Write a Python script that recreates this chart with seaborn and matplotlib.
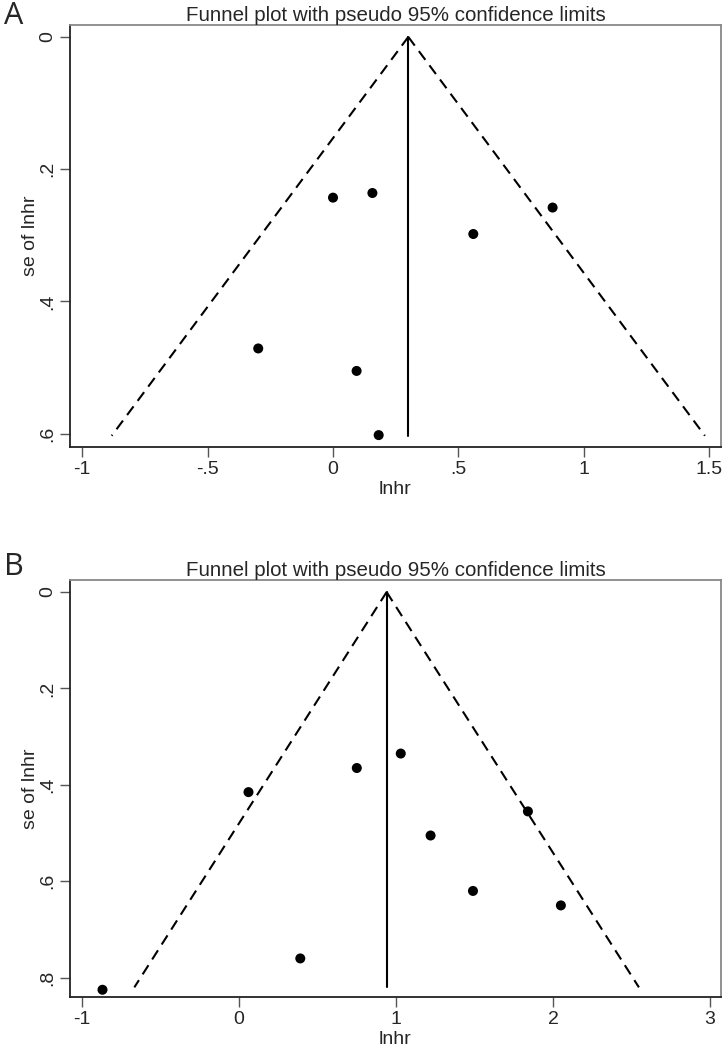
import seaborn as sns
import matplotlib.pyplot as plt
import numpy as np
import pandas as pd

# Panel A data (lnhr vs its standard error)
lnhr_a = [-0.298, 0.094, 0.182, 0.0, 0.157, 0.559, 0.875]
se_a = [0.471, 0.505, 0.602, 0.243, 0.236, 0.298, 0.258]
pooled_a = 0.30
se_max_a = 0.603
xticks_a = [-1, -0.5, 0, 0.5, 1, 1.5]
xticklabels_a = ['-1', '-.5', '0', '.5', '1', '1.5']
yticks_a = [0, 0.2, 0.4, 0.6]
yticklabels_a = ['0', '.2', '.4', '.6']

# Panel B data
lnhr_b = [-0.87, 0.06, 0.39, 0.75, 1.03, 1.22, 1.49, 1.84, 2.05]
se_b = [0.825, 0.415, 0.76, 0.365, 0.335, 0.505, 0.62, 0.455, 0.65]
pooled_b = 0.94
se_max_b = 0.82
xticks_b = [-1, 0, 1, 2, 3]
xticklabels_b = ['-1', '0', '1', '2', '3']
yticks_b = [0, 0.2, 0.4, 0.6, 0.8]
yticklabels_b = ['0', '.2', '.4', '.6', '.8']

sns.set_style('white')
plt.rcParams['font.family'] = ['Liberation Sans', 'DejaVu Sans']

fig = plt.figure(figsize=(7.23, 10.5), dpi=100)
# pixel layout: A frame 25..447, B frame 580..997
ax_a = fig.add_axes([70 / 723, 1 - 447 / 1050, 651 / 723, 422 / 1050])
ax_b = fig.add_axes([70 / 723, 1 - 997 / 1050, 651 / 723, 417 / 1050])


def funnel(ax, x, y, pooled, se_max, xlim, ylim, xt, xtl, yt, ytl):
    df = pd.DataFrame({'lnhr': x, 'se': y})
    # pseudo 95% limits
    s = np.array([0, se_max])
    dash = (0, (5.2, 3.3))
    ax.plot(pooled - 1.96 * s, s, color='black', ls=dash, lw=1.5)
    ax.plot(pooled + 1.96 * s, s, color='black', ls=dash, lw=1.5)
    ax.plot([pooled, pooled], [0, se_max], color='black', lw=1.5)
    sns.scatterplot(data=df, x='lnhr', y='se', ax=ax, color='black',
                    s=52, edgecolor='none', zorder=3)
    ax.set_xlim(*xlim)
    ax.set_ylim(*ylim)
    ax.set_xticks(xt)
    ax.set_xticklabels(xtl, fontsize=14)
    ax.set_yticks(yt)
    ax.set_yticklabels(ytl, fontsize=14, rotation=90, va='center')
    ax.tick_params(length=7, width=1, color='#555555', pad=3,
                   bottom=True, left=True)
    ax.set_xlabel('lnhr', fontsize=14, labelpad=2)
    ax.set_ylabel('se of lnhr', fontsize=14, labelpad=0)
    for side in ['left', 'bottom']:
        ax.spines[side].set_color('#222222')
        ax.spines[side].set_linewidth(1.3)
    for side in ['top', 'right']:
        ax.spines[side].set_color('#888888')
        ax.spines[side].set_linewidth(1.3)
    ax.set_title('Funnel plot with pseudo 95% confidence limits',
                 fontsize=14.8, pad=3)


funnel(ax_a, lnhr_a, se_a, pooled_a, se_max_a, (-1.048, 1.546), (0.62, -0.018),
       xticks_a, xticklabels_a, yticks_a, yticklabels_a)
funnel(ax_b, lnhr_b, se_b, pooled_b, se_max_b, (-1.077, 3.07), (0.84, -0.025),
       xticks_b, xticklabels_b, yticks_b, yticklabels_b)

fig.text(0.005, 1 - 16 / 1050, 'A', fontsize=22, family=['Open Sans', 'DejaVu Sans'], va='center')
fig.text(0.005, 1 - 567 / 1050, 'B', fontsize=22, family=['Open Sans', 'DejaVu Sans'], va='center')

fig.savefig('out.png', dpi=100)
